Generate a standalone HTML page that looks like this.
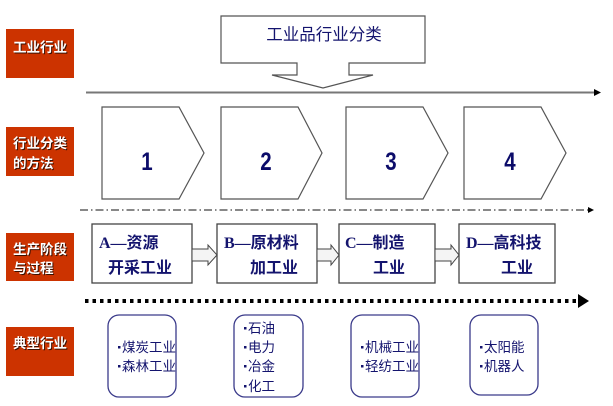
<!DOCTYPE html>
<html><head><meta charset="utf-8"><style>
html,body{margin:0;padding:0;background:#fff;}
svg{display:block;}
.lbl{font-family:"Liberation Sans","Noto Sans CJK SC",sans-serif;font-weight:bold;font-size:13.5px;fill:#fff;}
.lbls{font-family:"Liberation Sans","Noto Sans CJK SC",sans-serif;font-weight:bold;font-size:13.5px;fill:#3a1000;}
.nv{fill:#14146e;}
.pt{font-family:"Liberation Serif","Noto Sans CJK SC",sans-serif;font-weight:bold;font-size:16px;fill:#14146e;}
.it{font-family:"Liberation Sans","Noto Sans CJK SC",sans-serif;font-size:13.5px;fill:#14146e;}
.num{font-family:"Liberation Sans",sans-serif;font-weight:bold;font-size:25px;fill:#0c0c6a;}
</style></head><body>
<svg width="613" height="406" viewBox="0 0 613 406" xmlns="http://www.w3.org/2000/svg">
<!-- red labels -->
<rect x="6" y="29" width="68" height="49" fill="#cc3300"/>
<rect x="6" y="127" width="68" height="49" fill="#cc3300"/>
<rect x="6" y="233" width="68" height="48" fill="#cc3300"/>
<rect x="6" y="327" width="68" height="49" fill="#cc3300"/>
<g class="lbls">
<text x="14" y="53">工业行业</text>
<text x="14" y="149">行业分类</text>
<text x="14" y="169">的方法</text>
<text x="14" y="255">生产阶段</text>
<text x="14" y="274">与过程</text>
<text x="14" y="349">典型行业</text>
</g>
<g class="lbl">
<text x="13" y="52">工业行业</text>
<text x="13" y="148">行业分类</text>
<text x="13" y="168">的方法</text>
<text x="13" y="254">生产阶段</text>
<text x="13" y="273">与过程</text>
<text x="13" y="348">典型行业</text>
</g>
<!-- callout -->
<polygon points="221,16 425,16 425,63 349,63 349,75 373,75 323,88 272,75 297,75 297,63 221,63" fill="#fff" stroke="#555" stroke-width="1.2"/>
<text x="324" y="40" text-anchor="middle" font-family="Liberation Sans,'Noto Sans CJK SC',sans-serif" font-size="16.5px" class="nv">工业品行业分类</text>
<!-- solid line -->
<line x1="86" y1="92.5" x2="595" y2="92.5" stroke="#777" stroke-width="2"/>
<polygon points="594,89 601,92.5 594,96" fill="#000"/>
<!-- pentagons -->
<g fill="#fff" stroke="#555" stroke-width="1.2">
<polygon points="102,107 179,107 204,153 179,199 102,199"/>
<polygon points="221,107 298,107 322,153 298,199 221,199"/>
<polygon points="346,107 423,107 448,153 423,199 346,199"/>
<polygon points="464,107 541,107 566,153 541,199 464,199"/>
</g>
<g class="num" text-anchor="middle">
<text x="0" y="170" transform="translate(147,0) scale(0.82,1)">1</text>
<text x="0" y="170" transform="translate(266,0) scale(0.82,1)">2</text>
<text x="0" y="170" transform="translate(391,0) scale(0.82,1)">3</text>
<text x="0" y="170" transform="translate(510,0) scale(0.82,1)">4</text>
</g>
<!-- dash-dot line -->
<line x1="80" y1="210" x2="589" y2="210" stroke="#888" stroke-width="2" stroke-dasharray="8,3,1.5,3"/>
<polygon points="588,207 594,210 588,213" fill="#000"/>
<!-- process boxes -->
<g fill="#fff" stroke="#444" stroke-width="1.3">
<rect x="92" y="224" width="100" height="59"/>
<rect x="217" y="224" width="100" height="59"/>
<rect x="339" y="224" width="96" height="59"/>
<rect x="459" y="224" width="96" height="59"/>
</g>
<!-- block arrows -->
<g fill="#f4f4f4" stroke="#444" stroke-width="1">
<polygon points="192,249 208,249 208,245 217,255 208,265 208,261 192,261"/>
<polygon points="317,249 331,249 331,245 339,255 331,265 331,261 317,261"/>
<polygon points="435,249 451,249 451,245 459,255 451,265 451,261 435,261"/>
</g>
<g class="pt">
<text x="99" y="248">A—资源</text>
<text x="108" y="273">开采工业</text>
<text x="224" y="248">B—原材料</text>
<text x="250" y="273">加工业</text>
<text x="345" y="248">C—制造</text>
<text x="373" y="273">工业</text>
<text x="466" y="248">D—高科技</text>
<text x="501" y="273">工业</text>
</g>
<!-- dotted line -->
<line x1="85" y1="301" x2="580" y2="301" stroke="#000" stroke-width="4" stroke-dasharray="3.5,4"/>
<polygon points="578,294 589,301 578,308" fill="#000"/>
<!-- rounded boxes -->
<g fill="#fff" stroke="#3a3a8a" stroke-width="1.3">
<rect x="108" y="315" width="68" height="82" rx="11"/>
<rect x="234" y="315" width="69" height="82" rx="11"/>
<rect x="351" y="315" width="68" height="82" rx="11"/>
<rect x="470" y="315" width="68" height="80" rx="11"/>
</g>
<g fill="#14146e">
<rect x="118" y="346" width="2.5" height="2.5"/>
<rect x="118" y="365" width="2.5" height="2.5"/>
<rect x="244" y="327" width="2.5" height="2.5"/>
<rect x="244" y="346" width="2.5" height="2.5"/>
<rect x="244" y="365" width="2.5" height="2.5"/>
<rect x="244" y="385" width="2.5" height="2.5"/>
<rect x="361" y="346" width="2.5" height="2.5"/>
<rect x="361" y="365" width="2.5" height="2.5"/>
<rect x="480" y="346" width="2.5" height="2.5"/>
<rect x="480" y="365" width="2.5" height="2.5"/>
</g>
<g class="it">
<text x="122" y="352">煤炭工业</text>
<text x="122" y="371">森林工业</text>
<text x="248" y="333">石油</text>
<text x="248" y="352">电力</text>
<text x="248" y="371">冶金</text>
<text x="248" y="391">化工</text>
<text x="365" y="352">机械工业</text>
<text x="365" y="371">轻纺工业</text>
<text x="484" y="352">太阳能</text>
<text x="484" y="371">机器人</text>
</g>
</svg>
</body></html>
